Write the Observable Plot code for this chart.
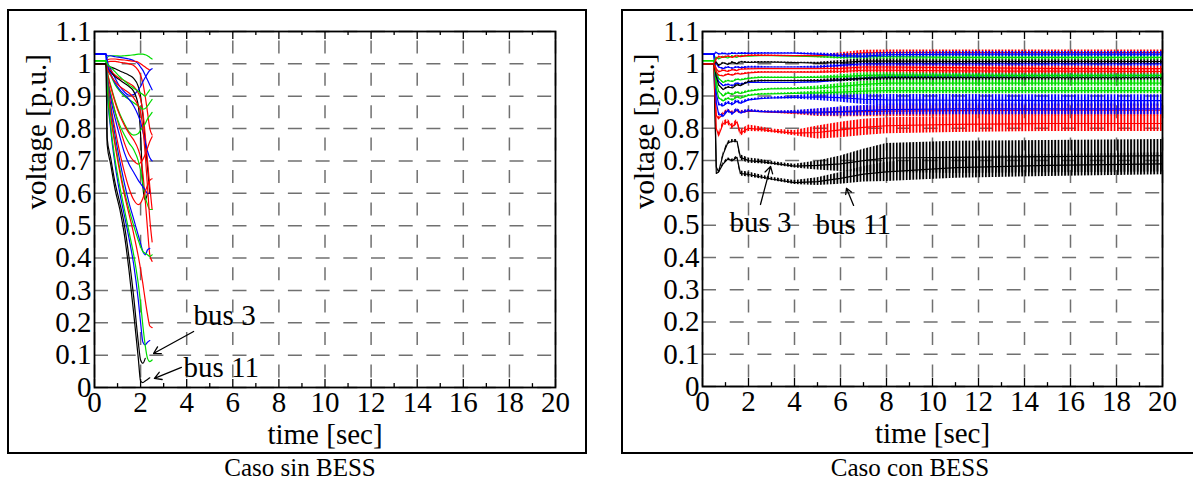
<!DOCTYPE html>
<html><head><meta charset="utf-8">
<script src="https://cdn.jsdelivr.net/npm/d3@7"></script>
<script src="https://cdn.jsdelivr.net/npm/@observablehq/plot@0.6"></script>
<style>
body{margin:0;background:#fff;width:1193px;height:480px;overflow:hidden;position:relative;font-family:"Liberation Serif",serif}
.panel{position:absolute;top:10px}
.box{position:absolute;border:2px solid #000;box-sizing:border-box;pointer-events:none}
.cap{position:absolute;top:457px;font:25px/22px "Liberation Serif",serif;text-align:center;color:#000}
</style></head><body>
<div id="left" class="panel" style="left:8px"></div>
<div id="right" class="panel" style="left:622px"></div>
<div class="box" style="left:7px;top:9px;width:580px;height:445px"></div>
<div class="box" style="left:621px;top:9px;width:580px;height:445px"></div>
<div class="cap" style="left:8px;width:584px">Caso sin BESS</div>
<div class="cap" style="left:622px;width:576px">Caso con BESS</div>
<script>
// ---------- axes ----------
const xMajor = [0,2,4,6,8,10,12,14,16,18,20];
const xMinor = [1,3,5,7,9,11,13,15,17,19];
const xLabels = ["0","2","4","6","8","10","12","14","16","18","20"];
const yMajor = [0,0.1,0.2,0.3,0.4,0.5,0.6,0.7,0.8,0.9,1,1.1];
const yLabels = ["0","0.1","0.2","0.3","0.4","0.5","0.6","0.7","0.8","0.9","1","1.1"];
const palette = {black:"#000000", red:"#ff0000", blue:"#0000ff", green:"#00dc00"};

// ---------- Caso sin BESS (time grid, voltages) ----------
const tL = [0,0.5,0.55,0.7,0.9,1.1,1.3,1.5,1.7,1.9,2.0,2.1,2.2,2.3,2.4,2.5];
const sinBus11 = [1.0,1.0,0.75,0.69,0.61,0.55,0.47,0.36,0.23,0.09,0.02,0.015,0.02,0.025,0.03,null];
const sinBus3  = [1.0,1.0,0.77,0.71,0.63,0.57,0.50,0.40,0.28,0.14,0.085,0.075,0.09,null,null,null];
const sinG1 = [1.01,1.01,1.02,1.025,1.025,1.024,1.025,1.026,1.028,1.03,1.03,1.03,1.028,1.025,1.02,1.015];
const sinB1 = [1.03,1.03,1.025,1.025,1.022,1.02,1.018,1.015,1.01,1.0,0.99,0.98,0.965,0.95,0.935,0.92];
const sinR1 = [1.0,1.0,1.012,1.015,1.015,1.013,1.012,1.01,1.008,1.005,1.0,0.995,0.99,0.985,0.98,null];
const sinR2 = [1.0,1.0,1.005,1.008,1.008,1.005,1.003,1.0,0.995,0.98,0.965,0.94,0.90,0.85,0.80,0.78];
const sinK1 = [1.0,1.0,0.995,0.99,0.985,0.978,0.972,0.965,0.955,0.93,0.90,0.84,0.76,0.68,0.60,null];
const sinB2 = [1.03,1.03,1.01,0.985,0.955,0.93,0.913,0.903,0.905,0.92,0.93,0.945,0.958,0.97,0.98,0.985];
const sinR3 = [1.0,1.0,0.995,0.98,0.965,0.955,0.948,0.94,0.93,0.91,0.89,0.85,0.78,0.70,0.62,0.55];
const sinK2 = [1.0,1.0,0.99,0.975,0.96,0.95,0.94,0.93,0.915,0.87,0.78,0.62,0.58,0.60,null,null];
const sinG2 = [1.01,1.01,0.99,0.965,0.935,0.915,0.90,0.89,0.88,0.87,0.865,0.86,0.862,0.87,0.88,0.89];
const sinB3 = [1.03,1.03,1.0,0.97,0.94,0.92,0.905,0.89,0.87,0.84,0.82,0.79,0.76,0.73,0.71,0.70];
const sinG3 = [1.01,1.01,0.98,0.935,0.885,0.845,0.815,0.79,0.78,0.785,0.795,0.805,0.815,0.83,0.84,0.85];
const sinR4 = [1.0,1.0,0.975,0.93,0.88,0.84,0.81,0.785,0.765,0.735,0.71,0.66,0.58,0.49,0.41,0.39];
const sinR5 = [1.0,1.0,0.965,0.91,0.85,0.80,0.755,0.72,0.70,0.69,0.695,0.705,0.72,0.74,0.76,0.775];
const sinG4 = [1.01,1.01,0.96,0.905,0.85,0.81,0.78,0.755,0.735,0.70,0.67,0.63,0.59,0.565,0.55,0.55];
const sinB4 = [1.03,1.03,0.965,0.895,0.83,0.775,0.725,0.69,0.665,0.64,0.63,0.62,0.61,0.60,0.60,null];
const sinR6 = [1.0,1.0,0.955,0.875,0.795,0.725,0.665,0.615,0.58,0.565,0.57,0.585,0.605,0.625,0.64,0.645];
const sinB5 = [1.03,1.03,0.955,0.865,0.775,0.70,0.63,0.57,0.52,0.47,0.445,0.42,0.41,0.425,0.43,null];
const sinG5 = [1.01,1.01,0.95,0.85,0.755,0.675,0.605,0.55,0.50,0.455,0.435,0.42,0.415,0.41,0.405,0.41];
const sinR7 = [1.0,1.0,0.94,0.84,0.745,0.665,0.595,0.535,0.475,0.405,0.365,0.32,0.27,0.225,0.19,0.185];
const sinB6 = [1.03,1.03,0.93,0.80,0.685,0.60,0.53,0.46,0.38,0.27,0.20,0.14,0.132,0.14,0.145,null];
const sinG6 = [1.01,1.01,0.93,0.81,0.70,0.62,0.55,0.48,0.41,0.32,0.26,0.19,0.13,0.09,0.08,0.085];
const sinR8 = [1.0,1.0,0.985,0.965,0.945,0.93,0.92,0.91,0.895,0.87,0.85,0.80,0.72,0.62,0.52,0.45];
const sinG7 = [1.01,1.01,1.0,0.99,0.975,0.96,0.948,0.935,0.925,0.915,0.91,0.905,0.90,0.91,0.92,null];
const sinSeries = [
  ["green",sinG1],["blue",sinB1],["red",sinR1],["red",sinR2],["black",sinK1],["blue",sinB2],
  ["red",sinR3],["black",sinK2],["green",sinG2],["blue",sinB3],["green",sinG3],["red",sinR4],
  ["red",sinR5],["green",sinG4],["blue",sinB4],["red",sinR6],["blue",sinB5],["green",sinG5],
  ["red",sinR7],["blue",sinB6],["green",sinG6],["red",sinR8],["green",sinG7],
  ["black",sinBus3],["black",sinBus11]
];
const sinNotes = [{t:4.30,v:0.223,label:"bus 3"},{t:3.86,v:0.060,label:"bus 11"}];
const sinArrows = [{t1:4.30,v1:0.173,t2:2.56,v2:0.105},{t1:3.77,v1:0.062,t2:2.60,v2:0.028}];

// ---------- Caso con BESS (time grid, mean voltages, oscillation half-amplitudes) ----------
const tR = [0,0.5,0.6,0.7,0.9,1.1,1.3,1.5,1.65,2.0,2.5,3,4,5,6,7,8,11,15,20];
const ampTop   = [0,0,0.002,0.002,0.002,0.002,0.002,0.002,0.002,0.002,0.002,0.001,0.001,0.003,0.006,0.008,0.008,0.008,0.008,0.008];
const ampMid   = [0,0,0.002,0.003,0.003,0.003,0.003,0.003,0.003,0.003,0.002,0.002,0.003,0.006,0.009,0.01,0.01,0.01,0.01,0.01];
const ampBlue  = [0,0,0.004,0.005,0.005,0.005,0.005,0.005,0.005,0.004,0.003,0.003,0.005,0.011,0.014,0.016,0.017,0.018,0.018,0.018];
const ampRed   = [0,0,0.006,0.008,0.008,0.008,0.008,0.008,0.01,0.01,0.008,0.006,0.008,0.02,0.024,0.025,0.025,0.025,0.025,0.025];
const ampBus3  = [0,0,0,0,0.005,0.005,0.005,0.005,0.008,0.008,0.007,0.005,0.006,0.014,0.024,0.035,0.045,0.05,0.05,0.05];
const ampBus11 = [0,0,0,0,0.004,0.004,0.004,0.004,0.008,0.008,0.006,0.005,0.006,0.012,0.018,0.024,0.03,0.033,0.034,0.034];
const conB1 = [1.03,1.03,1.035,1.03,1.032,1.03,1.033,1.031,1.033,1.032,1.033,1.033,1.033,1.03,1.025,1.024,1.028,1.03,1.03,1.03];
const conR1 = [1.0,1.0,1.015,1.022,1.02,1.024,1.02,1.025,1.022,1.026,1.026,1.026,1.025,1.025,1.028,1.034,1.035,1.035,1.035,1.035];
const conG1 = [1.01,1.01,1.02,1.015,1.022,1.018,1.024,1.02,1.025,1.024,1.025,1.025,1.024,1.022,1.02,1.022,1.022,1.02,1.02,1.02];
const conK1 = [1.0,1.0,1.005,0.995,1.003,0.998,1.005,1.0,1.006,1.004,1.005,1.005,1.004,1.002,1.004,1.008,1.008,1.007,1.007,1.007];
const conB2 = [1.03,1.03,1.0,0.99,0.985,0.99,0.986,0.99,0.988,0.99,0.99,0.99,0.99,0.99,0.995,1.0,1.0,1.0,1.0,1.0];
const conR2 = [1.0,1.0,0.985,0.975,0.98,0.976,0.982,0.979,0.983,0.984,0.985,0.985,0.985,0.985,0.986,0.99,0.99,0.988,0.986,0.985];
const conR3 = [1.0,1.0,0.975,0.965,0.962,0.968,0.965,0.97,0.968,0.972,0.974,0.974,0.974,0.974,0.976,0.98,0.98,0.978,0.977,0.976];
const conG2 = [1.01,1.01,0.975,0.955,0.942,0.948,0.945,0.952,0.95,0.955,0.958,0.958,0.958,0.958,0.96,0.964,0.965,0.965,0.964,0.964];
const conK2 = [1.0,1.0,0.96,0.935,0.92,0.928,0.925,0.935,0.932,0.945,0.948,0.948,0.948,0.948,0.95,0.955,0.957,0.957,0.957,0.957];
const conB3 = [1.03,1.03,0.97,0.945,0.932,0.936,0.932,0.94,0.937,0.942,0.942,0.942,0.942,0.944,0.95,0.956,0.96,0.962,0.963,0.963];
const conG3 = [1.01,1.01,0.945,0.915,0.90,0.91,0.905,0.912,0.908,0.915,0.92,0.922,0.923,0.925,0.93,0.936,0.94,0.94,0.94,0.94];
const conG4 = [1.01,1.01,0.925,0.895,0.885,0.893,0.888,0.897,0.893,0.902,0.906,0.907,0.908,0.91,0.912,0.915,0.917,0.917,0.917,0.917];
const conR5 = [1.0,1.0,0.84,0.83,0.845,0.855,0.848,0.855,0.85,0.853,0.852,0.85,0.848,0.848,0.85,0.852,0.853,0.855,0.856,0.856];
const conB4 = [1.03,1.03,0.91,0.875,0.87,0.88,0.874,0.884,0.878,0.888,0.892,0.894,0.896,0.897,0.895,0.89,0.888,0.887,0.886,0.886];
const conB5 = [1.03,1.03,0.88,0.845,0.838,0.855,0.845,0.858,0.848,0.855,0.852,0.851,0.85,0.85,0.852,0.855,0.858,0.86,0.86,0.86];
const conR4 = [1.0,1.0,0.80,0.778,0.815,0.82,0.805,0.82,0.785,0.80,0.797,0.792,0.785,0.787,0.795,0.803,0.808,0.812,0.815,0.815];
const conBus3  = [1.0,1.0,0.68,0.665,0.72,0.755,0.76,0.76,0.71,0.70,0.697,0.692,0.683,0.685,0.69,0.70,0.708,0.71,0.712,0.715];
const conBus11 = [1.0,1.0,0.66,0.665,0.69,0.705,0.70,0.71,0.66,0.657,0.65,0.643,0.632,0.635,0.645,0.658,0.665,0.678,0.685,0.69];
const conSeries = [
  ["black",conBus11,ampBus11],["black",conBus3,ampBus3],["red",conR4,ampRed],["red",conR5,ampBlue],
  ["blue",conB5,ampBlue],["blue",conB4,ampBlue],["green",conG4,ampMid],["green",conG3,ampMid],
  ["blue",conB3,ampTop],["black",conK2,ampTop],["green",conG2,ampTop],["red",conR3,ampTop],
  ["red",conR2,ampTop],["blue",conB2,ampTop],["black",conK1,ampTop],["green",conG1,ampTop],
  ["red",conR1,ampTop],["blue",conB1,ampTop]
];
const conNotes = [{t:1.17,v:0.506,label:"bus 3"},{t:4.91,v:0.500,label:"bus 11"}];
const conArrows = [{t1:2.52,v1:0.564,t2:2.96,v2:0.682},{t1:6.57,v1:0.561,t2:6.26,v2:0.614}];

// ---------- helpers ----------
function rows(ts, vs, as) {
  return ts.map((t, i) => ({t, v: vs[i], a: as ? as[i] : 0})).filter(d => d.v != null);
}
function defsMark(prefix) {
  return () => {
    const ns = "http://www.w3.org/2000/svg";
    const defs = document.createElementNS(ns, "defs");
    for (const [name, col] of Object.entries(palette)) {
      const p = document.createElementNS(ns, "pattern");
      p.setAttribute("id", `${prefix}-${name}`);
      p.setAttribute("patternUnits", "userSpaceOnUse");
      p.setAttribute("width", "3.3");
      p.setAttribute("height", "8");
      const r = document.createElementNS(ns, "rect");
      r.setAttribute("width", "1.8");
      r.setAttribute("height", "8");
      r.setAttribute("fill", col);
      p.appendChild(r);
      defs.appendChild(p);
    }
    return defs;
  };
}
function frameMarks() {
  return [
    Plot.gridX(xMajor, {stroke: "#707070", strokeOpacity: 1, strokeWidth: 1.5, strokeDasharray: "13,19.4", strokeDashoffset: 23}),
    Plot.gridY(yMajor, {stroke: "#707070", strokeOpacity: 1, strokeWidth: 1.5, strokeDasharray: "14,13.7"})
  ];
}
function axisMarks() {
  return [
    Plot.ruleX(xMajor, {x: d => d, y1: 0, y2: 0.025, stroke: "#000", strokeWidth: 1.3}),
    Plot.ruleX(xMinor, {x: d => d, y1: 0, y2: 0.012, stroke: "#000", strokeWidth: 1.3}),
    Plot.ruleX(xMajor, {x: d => d, y1: 1.1, y2: 1.075, stroke: "#000", strokeWidth: 1.3}),
    Plot.ruleX(xMinor, {x: d => d, y1: 1.1, y2: 1.088, stroke: "#000", strokeWidth: 1.3}),
    Plot.frame({stroke: "#000", strokeWidth: 1.8}),
    Plot.axisX(xMajor, {tickSize: 0, tickPadding: 4, label: null, tickFormat: d => xLabels[xMajor.indexOf(d)]}),
    Plot.axisY(yMajor, {tickSize: 0, tickPadding: 3, label: null, tickFormat: d => yLabels[yMajor.indexOf(d)]}),
    Plot.text(["time [sec]"], {frameAnchor: "bottom", dy: 47, text: d => d, lineAnchor: "middle"}),
    Plot.text(["voltage [p.u.]"], {frameAnchor: "left", dx: -58, rotate: -90, text: d => d, lineAnchor: "middle"})
  ];
}
function noteMarks(notes, arrows) {
  return [
    Plot.arrow(arrows, {x1: "t1", y1: "v1", x2: "t2", y2: "v2", stroke: "#000", strokeWidth: 1.3, headLength: 9}),
    Plot.text(notes, {x: "t", y: "v", text: "label", textAnchor: "start", lineAnchor: "middle", fill: "#000"})
  ];
}
const style = {fontFamily: "Liberation Serif, serif", fontSize: "29px", color: "#000", background: "transparent", overflow: "visible"};

// ---------- left chart ----------
const leftMarks = [...frameMarks()];
for (const [c, vs] of sinSeries) {
  leftMarks.push(Plot.line(rows(tL, vs), {x: "t", y: "v", stroke: palette[c], strokeWidth: 1.2, curve: "monotone-x"}));
}
const leftPlot = Plot.plot({
  width: 577, height: 442, marginLeft: 86, marginRight: 30, marginTop: 21, marginBottom: 65,
  style, x: {domain: [0, 20]}, y: {domain: [0, 1.1]},
  marks: [...leftMarks, ...axisMarks(), ...noteMarks(sinNotes, sinArrows)]
});
document.getElementById("left").appendChild(leftPlot);

// ---------- right chart ----------
const rightMarks = [defsMark("con"), ...frameMarks()];
for (const [c, vs, as] of conSeries) {
  const data = rows(tR, vs, as);
  rightMarks.push(Plot.areaY(data, {x: "t", y1: d => d.v - d.a, y2: d => d.v + d.a, fill: `url(#con-${c})`, curve: "linear"}));
  rightMarks.push(Plot.line(data, {x: "t", y: "v", stroke: palette[c], strokeWidth: 1.2, curve: "linear"}));
}
const rightPlot = Plot.plot({
  width: 568, height: 442, marginLeft: 80, marginRight: 28, marginTop: 21, marginBottom: 66,
  style, x: {domain: [0, 20]}, y: {domain: [0, 1.1]},
  marks: [...rightMarks, ...axisMarks(), ...noteMarks(conNotes, conArrows)]
});
document.getElementById("right").appendChild(rightPlot);
</script>
</body></html>
